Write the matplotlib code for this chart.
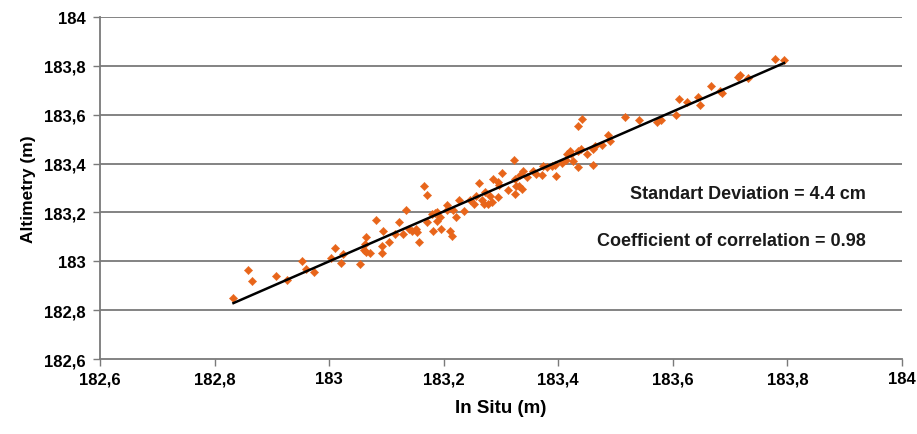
import numpy as np
import matplotlib
matplotlib.use("Agg")
import matplotlib.pyplot as plt
from matplotlib.ticker import FuncFormatter

plt.rcParams['font.family'] = ['Liberation Sans', 'DejaVu Sans']

# In situ water level (m)
in_situ = [
    182.833, 182.858, 182.865, 182.908, 182.926, 182.953, 182.959, 182.973, 183.004, 183.010,
    183.024, 183.021, 183.053, 183.064, 183.062, 183.060, 183.065, 183.071, 183.082, 183.094,
    183.092, 183.092, 183.104, 183.115, 183.122, 183.129, 183.134, 183.140, 183.144, 183.151,
    183.154, 183.156, 183.166, 183.170, 183.170, 183.179, 183.185, 183.189, 183.182, 183.189,
    183.193, 183.196, 183.206, 183.205, 183.211, 183.214, 183.217, 183.221, 183.227, 183.235,
    183.246, 183.253, 183.257, 183.261, 183.267, 183.270, 183.272, 183.278, 183.281, 183.285,
    183.286, 183.295, 183.297, 183.295, 183.302, 183.312, 183.323, 183.324, 183.327, 183.324,
    183.332, 183.336, 183.339, 183.333, 183.345, 183.356, 183.361, 183.371, 183.373, 183.380,
    183.389, 183.394, 183.396, 183.406, 183.414, 183.426, 183.416, 183.420, 183.423, 183.435,
    183.439, 183.435, 183.441, 183.435, 183.450, 183.461, 183.464, 183.461, 183.476, 183.487,
    183.491, 183.517, 183.541, 183.572, 183.579, 183.606, 183.610, 183.624, 183.644, 183.648,
    183.666, 183.683, 183.686, 183.714, 183.718, 183.731, 183.779, 183.794,
]
# Altimetry water level (m)
altimetry = [
    182.849, 182.965, 182.918, 182.941, 182.925, 183.003, 182.969, 182.955, 183.014, 183.053,
    183.030, 182.992, 182.989, 183.099, 183.071, 183.047, 183.037, 183.033, 183.167, 183.122,
    183.062, 183.033, 183.078, 183.112, 183.160, 183.112, 183.208, 183.133, 183.126, 183.133,
    183.119, 183.078, 183.308, 183.272, 183.160, 183.194, 183.198, 183.201, 183.126, 183.163,
    183.181, 183.133, 183.231, 183.208, 183.126, 183.103, 183.208, 183.181, 183.249, 183.205,
    183.249, 183.235, 183.269, 183.321, 183.249, 183.235, 183.283, 183.235, 183.269, 183.242,
    183.338, 183.324, 183.313, 183.263, 183.362, 183.290, 183.413, 183.338, 183.310, 183.276,
    183.310, 183.297, 183.368, 183.354, 183.345, 183.368, 183.358, 183.354, 183.390, 183.388,
    183.390, 183.395, 183.349, 183.403, 183.413, 183.409, 183.440, 183.450, 183.440, 183.450,
    183.458, 183.554, 183.584, 183.386, 183.440, 183.458, 183.472, 183.395, 183.477, 183.515,
    183.491, 183.591, 183.577, 183.570, 183.577, 183.597, 183.663, 183.652, 183.673, 183.641,
    183.716, 183.696, 183.689, 183.755, 183.764, 183.752, 183.830, 183.825,
]

x_ticks = [182.6, 182.8, 183.0, 183.2, 183.4, 183.6, 183.8, 184.0]
y_ticks = [182.6, 182.8, 183.0, 183.2, 183.4, 183.6, 183.8, 184.0]
x_label = "In Situ (m)"
y_label = "Altimetry (m)"
stats_text = ["Standart Deviation = 4.4 cm", "Coefficient of correlation = 0.98"]

x = np.array(in_situ)
y = np.array(altimetry)

fig = plt.figure(figsize=(9.17, 4.35), dpi=100)
ax = fig.add_axes([100/917, 1-360/435, 802/917, 342/435])

ax.set_xlim(182.6, 184.0)
ax.set_ylim(182.6, 184.0)

for yt in y_ticks[1:]:
    ax.axhline(yt, color='#7a7a7a', lw=1.3, zorder=1)

ax.scatter(x, y, marker='D', s=18, color='#E8651A', edgecolors='#E8651A',
           linewidths=0.3, zorder=3)

coef = np.polyfit(x, y, 1)
xl = np.array([x.min(), x.max()])
ax.plot(xl, np.polyval(coef, xl), color='black', lw=1.8, zorder=4)

def fmt(v, pos):
    s = f"{round(v, 1):g}"
    return s.replace('.', ',')

ax.xaxis.set_major_formatter(FuncFormatter(fmt))
ax.yaxis.set_major_formatter(FuncFormatter(fmt))
ax.set_xticks(x_ticks)
ax.set_yticks(y_ticks)

for s in ['top', 'right']:
    ax.spines[s].set_visible(False)
for s in ['left', 'bottom']:
    ax.spines[s].set_color('#7a7a7a')
    ax.spines[s].set_linewidth(1.3)

ax.tick_params(axis='both', direction='out', length=5, width=1, color='#7a7a7a',
               labelsize=12, pad=5)
for lab in ax.get_xticklabels() + ax.get_yticklabels():
    lab.set_fontweight('bold')
ax.tick_params(axis='x', pad=4)

ax.set_xlabel(x_label, fontsize=13.5, fontweight='bold', labelpad=9)
ax.set_ylabel(y_label, fontsize=12.5, fontweight='bold', labelpad=6)

ax.text(183.937, 183.276, stats_text[0], fontsize=13, fontweight='bold',
        ha='right', va='center', color='#1a1a1a')
ax.text(183.937, 183.084, stats_text[1], fontsize=13, fontweight='bold',
        ha='right', va='center', color='#1a1a1a')

fig.savefig("out.png", dpi=100, facecolor='white')
